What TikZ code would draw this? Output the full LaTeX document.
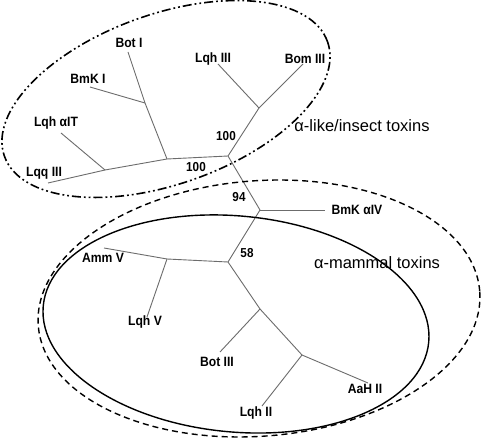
\documentclass[tikz,border=0pt]{standalone}
\usepackage{fontspec}
\setmainfont{Liberation Sans}
\newfontfamily\lblfont[FakeStretch=0.9]{Liberation Sans}
\begin{document}
\begin{tikzpicture}[x=1pt,y=-1pt,
  branch/.style={draw=gray!85!black, line width=0.9pt},
  leaflbl/.style={font=\lblfont\bfseries\fontsize{13.5}{14}\selectfont, inner sep=0pt},
  bootlbl/.style={font=\lblfont\bfseries\fontsize{13}{14}\selectfont, inner sep=0pt},
  grouplbl/.style={font=\fontsize{16.5}{17}\selectfont, inner sep=0pt},
  ringsolid/.style={draw=black, line width=1.4pt},
  ringdash/.style={draw=black, line width=1.4pt, dash pattern=on 6pt off 4pt},
  ringdashdot/.style={draw=black, line width=1.6pt, dash pattern=on 9pt off 3pt on 1.8pt off 3pt on 1.8pt off 3pt}]
\useasboundingbox (0,0) rectangle (482,438);
\fill[white] (0,0) rectangle (482,438);

% tree coordinates
\coordinate (root) at (228,156);
\coordinate (jbot) at (167,159);
\coordinate (jbmk) at (145,103);
\coordinate (jlqh) at (105,170);
\coordinate (jlqh3) at (259,108);
\coordinate (j94) at (260,210);
\coordinate (j58) at (228,262);
\coordinate (jamm) at (167,259);
\coordinate (jbot3) at (260,309);
\coordinate (jaah) at (302,355);
\coordinate (lBotI) at (128,52);
\coordinate (lBmkI) at (90,87);
\coordinate (lLqhaIT) at (61,133);
\coordinate (lLqq) at (48,183);
\coordinate (lLqh3) at (218,64);
\coordinate (lBom3) at (303,64);
\coordinate (lBmkIV) at (325,210);
\coordinate (lAmm) at (104,248);
\coordinate (lLqhV) at (147,317);
\coordinate (lBot3) at (220,352);
\coordinate (lLqh2) at (262,406);
\coordinate (lAaH) at (368,383);

% branches
\draw[branch] (root) -- (jbot);
\draw[branch] (jbot) -- (jlqh);
\draw[branch] (jlqh) -- (lLqq);
\draw[branch] (jlqh) -- (lLqhaIT);
\draw[branch] (jbot) -- (jbmk);
\draw[branch] (jbmk) -- (lBotI);
\draw[branch] (jbmk) -- (lBmkI);
\draw[branch] (root) -- (jlqh3);
\draw[branch] (jlqh3) -- (lLqh3);
\draw[branch] (jlqh3) -- (lBom3);
\draw[branch] (root) -- (j94);
\draw[branch] (j94) -- (lBmkIV);
\draw[branch] (j94) -- (j58);
\draw[branch] (j58) -- (jamm);
\draw[branch] (jamm) -- (lAmm);
\draw[branch] (jamm) -- (lLqhV);
\draw[branch] (j58) -- (jbot3);
\draw[branch] (jbot3) -- (lBot3);
\draw[branch] (jbot3) -- (jaah);
\draw[branch] (jaah) -- (lLqh2);
\draw[branch] (jaah) -- (lAaH);

% leaf labels
\node[leaflbl] (tBotI) at (129,43) {Bot I};
\node[leaflbl] (tBmkI) at (88,79) {BmK I};
\node[leaflbl] (tLqhaIT) at (56,123) {Lqh αIT};
\node[leaflbl] (tLqq) at (44,173) {Lqq III};
\node[leaflbl] (tLqh3) at (213,59) {Lqh III};
\node[leaflbl] (tBom3) at (305,59) {Bom III};
\node[leaflbl] (tBmkIV) at (357,210) {BmK αIV};
\node[leaflbl] (tAmm) at (103,258) {Amm V};
\node[leaflbl] (tLqhV) at (145,322) {Lqh V};
\node[leaflbl] (tBot3) at (217,362) {Bot III};
\node[leaflbl] (tAaH) at (365,389) {AaH II};
\node[leaflbl] (tLqh2) at (256,413) {Lqh II};

% bootstrap values
\node[bootlbl] (b100a) at (226,136) {100};
\node[bootlbl] (b100b) at (196,167) {100};
\node[bootlbl] (b94) at (239,197) {94};
\node[bootlbl] (b58) at (247,253) {58};

% group labels
\node[grouplbl] (gins) at (362,126) {α-like/insect toxins};
\node[grouplbl] (gmam) at (377,263) {α-mammal toxins};

% ellipses
\coordinate (cins) at (166,99);
\coordinate (cdash) at (259,308.5);
\coordinate (csol) at (236,324);
\draw[ringdashdot, rotate around={19.5:(cins)}] (cins) ellipse [x radius=171.4pt, y radius=85pt];
\draw[ringdash, rotate around={4.5:(cdash)}] (cdash) ellipse [x radius=221.4pt, y radius=127.7pt];
\draw[ringsolid, rotate around={-5.4:(csol)}] (csol) ellipse [x radius=193.6pt, y radius=108pt];
\end{tikzpicture}
\end{document}
